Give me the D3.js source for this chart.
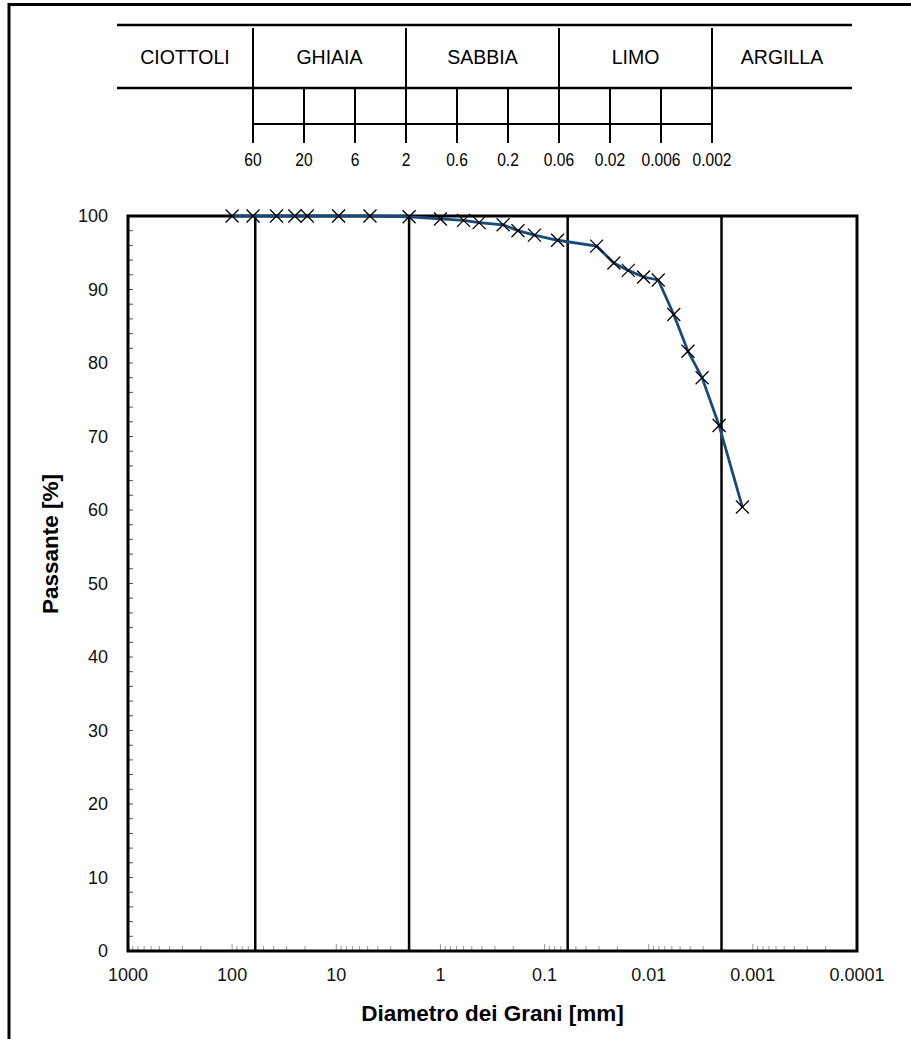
<!DOCTYPE html>
<html>
<head>
<meta charset="utf-8">
<script src="https://cdn.jsdelivr.net/npm/d3@7"></script>
<style>
  body { margin: 0; background: #fff; }
  text { font-family: Arial, "Liberation Sans", sans-serif; }
</style>
</head>
<body>
<div class="canvas"></div>
<script>
// grain size curve (mm, % passing)
const diameters = [100, 63, 37.5, 25, 19, 9.5, 4.75, 2, 1, 0.6, 0.425, 0.25, 0.18,
  0.125, 0.075, 0.0316, 0.0216, 0.0157, 0.0112, 0.0081, 0.00575, 0.0042, 0.00307,
  0.00211, 0.00126];
const passing = [100, 100, 100, 100, 100, 100, 100, 99.9, 99.6, 99.4, 99.1, 98.8, 98.0,
  97.4, 96.7, 95.9, 93.6, 92.6, 91.7, 91.3, 86.6, 81.6, 78.0, 71.5, 60.4];

const classNames = ["CIOTTOLI", "GHIAIA", "SABBIA", "LIMO", "ARGILLA"];
const classLimits = [60, 2, 0.06, 0.002];
const headerTicks = ["60", "20", "6", "2", "0.6", "0.2", "0.06", "0.02", "0.006", "0.002"];

const xTickValues = [1000, 100, 10, 1, 0.1, 0.01, 0.001, 0.0001];
const yTickValues = [0, 10, 20, 30, 40, 50, 60, 70, 80, 90, 100];

const width = 911;
const height = 1039;

const svg = d3
  .select(".canvas")
  .append("svg")
  .attr("width", width)
  .attr("height", height);

// outer frame (top + left only)
svg.append("line")
  .attr("x1", 8).attr("y1", 4.5).attr("x2", width).attr("y2", 4.5)
  .attr("stroke", "black").attr("stroke-width", 3);
svg.append("line")
  .attr("x1", 9).attr("y1", 3).attr("x2", 9).attr("y2", height)
  .attr("stroke", "black").attr("stroke-width", 3);

// ---------- header table ----------
const hx = d3.scalePoint().domain(headerTicks).range([253, 712]);
const headerLeft = 117;
const headerRight = 852;
const header = svg.append("g");

header.append("line")
  .attr("x1", headerLeft).attr("y1", 25).attr("x2", headerRight).attr("y2", 25)
  .attr("stroke", "black").attr("stroke-width", 2.5);
header.append("line")
  .attr("x1", headerLeft).attr("y1", 88).attr("x2", headerRight).attr("y2", 88)
  .attr("stroke", "black").attr("stroke-width", 2.5);
header.append("line")
  .attr("x1", hx("60")).attr("y1", 124).attr("x2", hx("0.002")).attr("y2", 124)
  .attr("stroke", "black").attr("stroke-width", 2);

// class dividers in the top band
header.selectAll(".divider")
  .data(classLimits)
  .enter()
  .append("line")
  .attr("class", "divider")
  .attr("x1", d => hx(String(d)))
  .attr("x2", d => hx(String(d)))
  .attr("y1", 28)
  .attr("y2", 88)
  .attr("stroke", "black")
  .attr("stroke-width", 2);

// scale ticks
header.selectAll(".htick")
  .data(headerTicks)
  .enter()
  .append("line")
  .attr("class", "htick")
  .attr("x1", d => hx(d))
  .attr("x2", d => hx(d))
  .attr("y1", 88)
  .attr("y2", 143)
  .attr("stroke", "black")
  .attr("stroke-width", 2);

header.selectAll(".hlabel")
  .data(headerTicks)
  .enter()
  .append("text")
  .attr("class", "hlabel")
  .attr("transform", d => `translate(${hx(d)},166) scale(0.82,1)`)
  .attr("text-anchor", "middle")
  .attr("font-size", 19)
  .text(d => d);

const bounds = [headerLeft].concat(classLimits.map(d => hx(String(d))), [headerRight]);
header.selectAll(".cname")
  .data(classNames)
  .enter()
  .append("text")
  .attr("class", "cname")
  .attr("x", (d, i) => (bounds[i] + bounds[i + 1]) / 2)
  .attr("y", 64)
  .attr("text-anchor", "middle")
  .attr("font-size", 19.5)
  .text(d => d);

// ---------- chart ----------
const xScale = d3.scaleLog().domain([1000, 0.0001]).range([128, 857]);
const yScale = d3.scaleLinear().domain([0, 100]).range([951, 216]);

const graph = svg.append("g");

// minor ticks on x axis (2..9 per decade)
const minorX = [];
for (let e = -4; e < 3; e++) {
  for (let k = 2; k <= 9; k++) minorX.push(k * Math.pow(10, e));
}
graph.selectAll(".xminor")
  .data(minorX)
  .enter()
  .append("line")
  .attr("x1", d => xScale(d)).attr("x2", d => xScale(d))
  .attr("y1", yScale(0)).attr("y2", yScale(0) - 5)
  .attr("stroke", "#999").attr("stroke-width", 1);
graph.selectAll(".xmajor")
  .data(xTickValues)
  .enter()
  .append("line")
  .attr("x1", d => xScale(d)).attr("x2", d => xScale(d))
  .attr("y1", yScale(0)).attr("y2", yScale(0) - 7)
  .attr("stroke", "#999").attr("stroke-width", 1);

// minor ticks on y axis every 2 %
graph.selectAll(".yminor")
  .data(d3.range(0, 101, 2))
  .enter()
  .append("line")
  .attr("x1", xScale(1000)).attr("x2", xScale(1000) + 5)
  .attr("y1", d => yScale(d)).attr("y2", d => yScale(d))
  .attr("stroke", "#555").attr("stroke-width", 1);

// class limit lines
graph.selectAll(".limit")
  .data(classLimits)
  .enter()
  .append("line")
  .attr("x1", d => xScale(d)).attr("x2", d => xScale(d))
  .attr("y1", yScale(100)).attr("y2", yScale(0))
  .attr("stroke", "black").attr("stroke-width", 2.5);

// plot border
graph.append("rect")
  .attr("x", xScale(1000))
  .attr("y", yScale(100))
  .attr("width", xScale(0.0001) - xScale(1000))
  .attr("height", yScale(0) - yScale(100))
  .attr("fill", "none")
  .attr("stroke", "black")
  .attr("stroke-width", 3);

// tick labels
graph.selectAll(".xlabel")
  .data(xTickValues)
  .enter()
  .append("text")
  .attr("x", d => xScale(d))
  .attr("y", 981)
  .attr("text-anchor", "middle")
  .attr("font-size", 18)
  .attr("fill", "#111")
  .text(d => String(d));

graph.selectAll(".ylabel")
  .data(yTickValues)
  .enter()
  .append("text")
  .attr("x", 108)
  .attr("y", d => yScale(d) + 6)
  .attr("text-anchor", "end")
  .attr("font-size", 18)
  .attr("fill", "#111")
  .text(d => d);

// axis titles
graph.append("text")
  .attr("x", (xScale(1000) + xScale(0.0001)) / 2)
  .attr("y", 1021)
  .attr("text-anchor", "middle")
  .attr("font-size", 22.5)
  .attr("font-weight", "bold")
  .text("Diametro dei Grani [mm]");

graph.append("text")
  .attr("transform", "translate(58,544) rotate(-90)")
  .attr("text-anchor", "middle")
  .attr("font-size", 22.5)
  .attr("font-weight", "bold")
  .text("Passante [%]");

// curve
const points = diameters.map((d, i) => [d, passing[i]]);
const line = d3.line()
  .x(d => xScale(d[0]))
  .y(d => yScale(d[1]));

graph.append("path")
  .datum(points)
  .attr("d", line)
  .attr("fill", "none")
  .attr("stroke", "#1a4a7a")
  .attr("stroke-width", 2.8);

const m = 6.5;
const markers = graph.selectAll(".marker")
  .data(points)
  .enter()
  .append("g")
  .attr("transform", d => `translate(${xScale(d[0])},${yScale(d[1])})`);
markers.append("line")
  .attr("x1", -m).attr("y1", -m).attr("x2", m).attr("y2", m)
  .attr("stroke", "black").attr("stroke-width", 1.3);
markers.append("line")
  .attr("x1", -m).attr("y1", m).attr("x2", m).attr("y2", -m)
  .attr("stroke", "black").attr("stroke-width", 1.3);
</script>
</body>
</html>
